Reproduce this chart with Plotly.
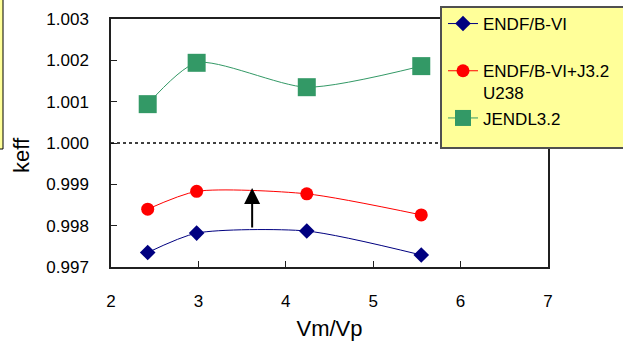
import plotly.graph_objects as go

# ---- data ----
vm_vp = [2.42, 2.98, 4.24, 5.55]
endf_b6 = [0.99735, 0.99782, 0.99787, 0.99729]
endf_b6_j32 = [0.99840, 0.99883, 0.99877, 0.99826]
jendl32 = [1.00094, 1.00194, 1.00135, 1.00186]
series_names = ["ENDF/B-VI<br>&nbsp;", "ENDF/B-VI+J3.2<br>U238", "JENDL3.2"]
x_ticks = [2, 3, 4, 5, 6, 7]
y_ticks = [0.997, 0.998, 0.999, 1.000, 1.001, 1.002, 1.003]
ref_level = 1.000
arrow_x = 3.615
arrow_from = 0.99792
arrow_to = 0.99891

W, H = 623, 349
ML, MR, MT, MB = 111, 75, 19, 82
PW = W - ML - MR
PH = H - MT - MB


def px_x(p):
    return (p - ML) / PW


def px_y(p):
    return (H - MB - p) / PH


FONT = "Liberation Sans, Arial, sans-serif"
SMOOTH = 0.7

fig = go.Figure()
fig.add_trace(go.Scatter(
    x=vm_vp, y=endf_b6, name=series_names[0], mode="lines+markers",
    line=dict(color="#000080", width=1, shape="spline", smoothing=SMOOTH),
    marker=dict(symbol="diamond", size=12, color="#000080"),
    legendgroup="a"))
fig.add_trace(go.Scatter(
    x=vm_vp, y=endf_b6_j32, name=series_names[1], mode="lines+markers",
    line=dict(color="#FF0000", width=1, shape="spline", smoothing=SMOOTH),
    marker=dict(symbol="circle", size=13, color="#FF0000"),
    legendgroup="b"))
fig.add_trace(go.Scatter(
    x=vm_vp, y=jendl32, name=series_names[2], mode="lines+markers",
    line=dict(color="#339966", width=1, shape="spline", smoothing=SMOOTH),
    marker=dict(symbol="square", size=18, color="#339966"),
    legendgroup="c"))

shapes = [
    dict(type="line", xref="x", yref="y", x0=x_ticks[0], x1=x_ticks[-1],
         y0=ref_level, y1=ref_level, line=dict(color="black", width=1.5, dash="dot"),
         layer="above"),
    dict(type="rect", xref="paper", yref="paper",
         x0=px_x(441), x1=px_x(650), y0=px_y(148), y1=px_y(7),
         fillcolor="#FFFF99", line=dict(color="#505050", width=2), layer="above"),
    dict(type="rect", xref="paper", yref="paper",
         x0=px_x(-30), x1=px_x(3), y0=px_y(149), y1=px_y(-30),
         fillcolor="#FFFF99", line=dict(color="black", width=1), layer="above"),
]

annotations = [
    dict(x=arrow_x, y=arrow_to, ax=arrow_x, ay=arrow_from, xref="x", yref="y",
         axref="x", ayref="y", text="", showarrow=True, arrowhead=2,
         arrowsize=1.6, arrowwidth=2, arrowcolor="black"),
    dict(text="keff", xref="paper", yref="paper", x=px_x(21), y=px_y(155),
         textangle=-90, showarrow=False, font=dict(size=22, color="black", family=FONT),
         xanchor="center", yanchor="middle"),
]

axis_common = dict(
    showline=True, linecolor="#202020", linewidth=1.5, mirror=True,
    ticks="inside", ticklen=6, tickcolor="#202020", showgrid=False, zeroline=False,
    tickfont=dict(size=17, color="black", family=FONT), automargin=False,
)

fig.update_layout(
    width=W, height=H,
    margin=dict(l=ML, r=MR, t=MT, b=MB, autoexpand=False),
    paper_bgcolor="white", plot_bgcolor="white",
    font=dict(family=FONT, color="black"),
    xaxis=dict(range=[x_ticks[0], x_ticks[-1]], tickvals=x_ticks,
               title=dict(text="Vm/Vp", font=dict(size=22), standoff=10),
               ticklabelstandoff=18, **axis_common),
    yaxis=dict(range=[y_ticks[0], y_ticks[-1]], tickvals=y_ticks, tickformat=".3f",
               ticklabelstandoff=17, **axis_common),
    showlegend=True,
    legend=dict(x=px_x(443), y=px_y(6), xanchor="left", yanchor="top",
                bgcolor="rgba(0,0,0,0)", borderwidth=0, valign="top",
                font=dict(size=17, color="black", family=FONT),
                traceorder="normal", tracegroupgap=0, itemwidth=30),
    shapes=shapes,
    annotations=annotations,
)

fig.write_html("out.html", config={"displayModeBar": False},
               post_script="document.body.style.margin='0';")
